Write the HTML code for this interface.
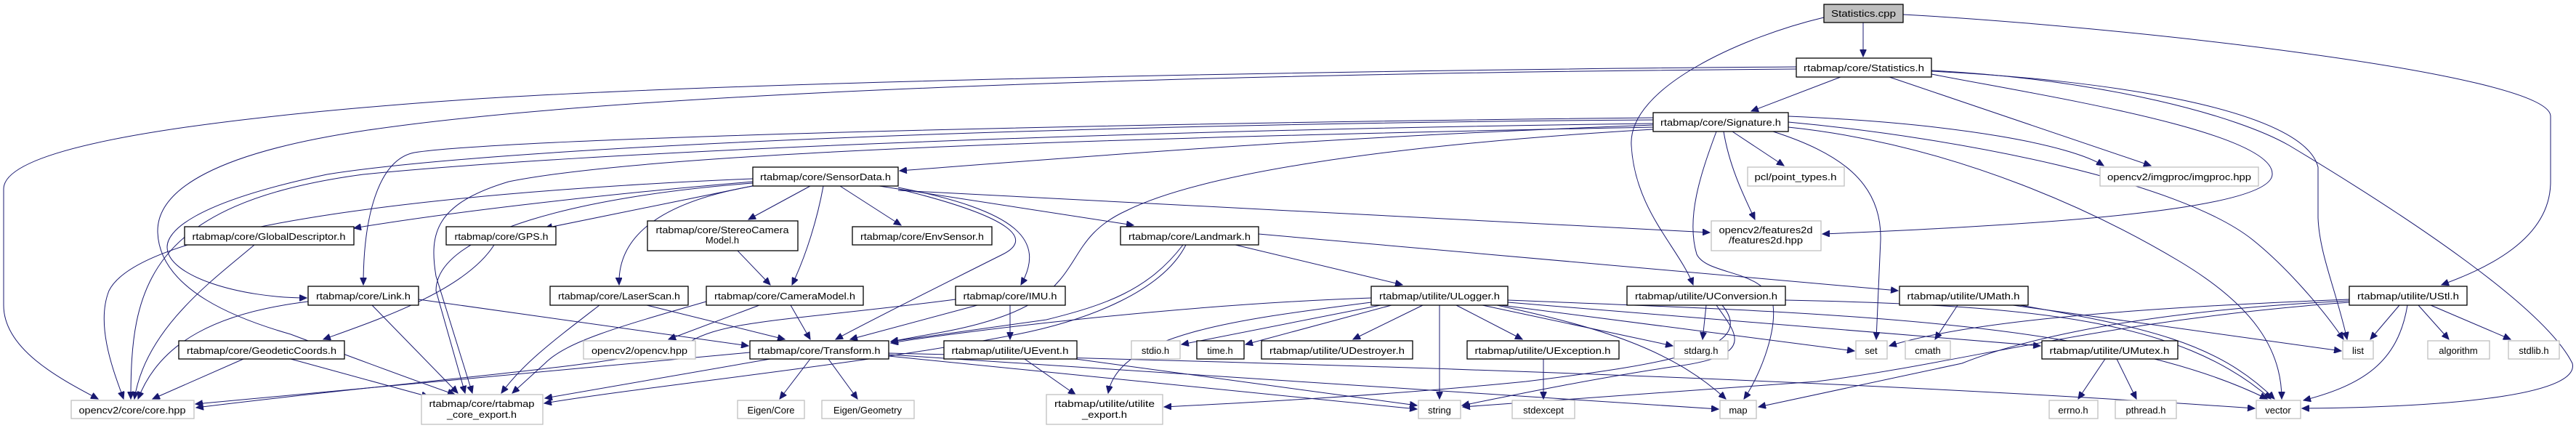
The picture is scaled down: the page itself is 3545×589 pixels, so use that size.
<!DOCTYPE html>
<html><head><meta charset="utf-8"><style>
html,body{margin:0;padding:0;background:#fff;}
svg{display:block;}
text{font-family:"Liberation Sans",sans-serif;font-size:13px;fill:#000;}
.b{fill:#fff;stroke:#000;stroke-width:1.3;}
.g{fill:#fff;stroke:#bfbfbf;stroke-width:1.3;}
.e{fill:none;stroke:#191970;stroke-width:1;marker-end:url(#a);}
</style></head><body>
<svg width="3545" height="589" viewBox="0 0 3545 589" xmlns="http://www.w3.org/2000/svg">
<defs><marker id="a" markerUnits="userSpaceOnUse" markerWidth="11" markerHeight="9" refX="10" refY="4.5" orient="auto"><path d="M0,0 L10,4.5 L0,9 z" fill="#191970" stroke="#191970"/></marker></defs>
<g>
<path class="e" d="M2564,31 L2564,78"/>
<path class="e" d="M2510,24 C2400,50 2240,120 2245,200 C2250,290 2310,340 2330,392"/>
<path class="e" d="M2619,20 C2900,35 3510,100 3510,160 L3510,250 C3510,330 3420,370 3360,392"/>
<path class="e" d="M2533,106 L2410,153"/>
<path class="e" d="M2472,92 C2000,95 1000,110 600,140 C200,170 5,210 5,260 L5,420 C5,480 80,520 135,549"/>
<path class="e" d="M2472,95 C1800,100 900,120 500,180 C300,210 215,260 217,320 C220,400 330,440 400,460 C480,490 560,520 626,543"/>
<path class="e" d="M2275,165 C1500,170 700,200 450,240 C260,280 230,320 230,340 C230,380 330,410 422,410"/>
<path class="e" d="M2658,98 C2900,110 3170,150 3190,230 L3190,300 C3192,350 3215,400 3230,467"/>
<path class="e" d="M2658,97 C2900,110 3080,160 3150,200 C3300,290 3500,420 3540,500 C3550,540 3400,560 3168,562"/>
<path class="e" d="M2600,106 L2960,228"/>
<path class="e" d="M2658,102 C2800,130 3130,180 3127,240 C3125,290 2800,310 2508,322"/>
<path class="e" d="M2275,172 C1800,190 1500,215 1238,235"/>
<path class="e" d="M2384,181 L2455,228"/>
<path class="e" d="M2372,181 C2380,230 2400,270 2415,302"/>
<path class="e" d="M2440,181 C2530,210 2590,250 2588,330 L2582,467"/>
<path class="e" d="M2362,181 C2340,240 2320,300 2335,350 C2350,380 2430,370 2440,420 C2445,460 2420,520 2400,549"/>
<path class="e" d="M2461,168 C2700,190 3000,250 3100,330 C3150,370 3200,430 3225,467"/>
<path class="e" d="M2461,175 C2700,200 2900,300 3000,360 C3100,420 3140,480 3140,549"/>
<path class="e" d="M2461,160 C2700,170 2850,200 2895,228"/>
<path class="e" d="M2275,178 C1900,200 1650,240 1550,290 C1440,340 1520,420 1280,460 L1226,470"/>
<path class="e" d="M2275,162 C1500,170 700,190 570,210 C520,220 500,300 500,392"/>
<path class="e" d="M2275,175 C1500,190 900,210 700,250 C600,280 590,320 600,380 L650,541"/>
<path class="e" d="M2275,170 C1500,180 800,210 500,240 C200,280 180,400 180,549"/>
<path class="e" d="M1036,250 C800,270 600,295 487,314"/>
<path class="e" d="M1040,255 L750,314"/>
<path class="e" d="M1115,256 L1030,302"/>
<path class="e" d="M1156,256 L1240,310"/>
<path class="e" d="M1210,256 L1560,310"/>
<path class="e" d="M1133,256 C1125,300 1110,350 1090,392"/>
<path class="e" d="M1036,256 C900,280 850,330 852,392"/>
<path class="e" d="M1236,258 C1400,290 1440,330 1405,392"/>
<path class="e" d="M1236,260 C1400,300 1420,330 1380,350 C1300,390 1200,440 1150,467"/>
<path class="e" d="M1236,262 L2353,320"/>
<path class="e" d="M1036,246 C700,260 200,300 150,400 C130,450 160,520 170,549"/>
<path class="e" d="M1036,252 C800,270 600,320 600,400 L640,541"/>
<path class="e" d="M350,337 C300,380 200,450 185,549"/>
<path class="e" d="M680,337 C640,400 520,440 445,467"/>
<path class="e" d="M335,494 L210,549"/>
<path class="e" d="M400,494 L590,546"/>
<path class="e" d="M424,415 C300,430 220,470 190,549"/>
<path class="e" d="M512,420 L630,541"/>
<path class="e" d="M576,412 L1030,476"/>
<path class="e" d="M825,420 C760,470 720,500 690,541"/>
<path class="e" d="M890,420 L1080,467"/>
<path class="e" d="M1015,345 L1060,392"/>
<path class="e" d="M1045,420 L920,467"/>
<path class="e" d="M1088,420 L1115,467"/>
<path class="e" d="M972,415 C850,450 780,470 750,500 L705,541"/>
<path class="e" d="M1345,420 L1170,467"/>
<path class="e" d="M1390,420 L1390,467"/>
<path class="e" d="M1315,412 C1100,440 1000,440 950,470 C900,500 600,520 270,561"/>
<path class="e" d="M1628,337 C1580,400 1520,420 1440,440 L1226,470"/>
<path class="e" d="M1632,337 C1600,400 1500,440 1400,460 C1200,500 900,530 749,555"/>
<path class="e" d="M1700,337 L1930,392"/>
<path class="e" d="M1732,322 L2612,400"/>
<path class="e" d="M1032,485 L269,556"/>
<path class="e" d="M1060,494 L750,548"/>
<path class="e" d="M1115,494 L1073,549"/>
<path class="e" d="M1140,494 L1180,549"/>
<path class="e" d="M1223,490 L1950,563"/>
<path class="e" d="M1223,488 L2365,563"/>
<path class="e" d="M1223,486 C1800,500 2500,520 3103,562"/>
<path class="e" d="M1410,494 L1480,543"/>
<path class="e" d="M1480,494 L1950,558"/>
<path class="e" d="M1887,410 C1600,420 1300,460 1226,472"/>
<path class="e" d="M1900,420 L1626,474"/>
<path class="e" d="M1915,420 L1714,474"/>
<path class="e" d="M1958,420 L1862,467"/>
<path class="e" d="M2004,420 L2095,467"/>
<path class="e" d="M2040,420 L2302,476"/>
<path class="e" d="M2050,418 L2552,483"/>
<path class="e" d="M1981,420 L1981,549"/>
<path class="e" d="M2060,420 C2200,450 2300,480 2375,549"/>
<path class="e" d="M2075,413 C2500,430 2900,440 3120,549"/>
<path class="e" d="M2075,416 L2808,476"/>
<path class="e" d="M1887,416 C1700,440 1540,460 1525,541"/>
<path class="e" d="M2124,494 L2124,549"/>
<path class="e" d="M2348,420 L2343,467"/>
<path class="e" d="M2362,420 C2390,460 2420,490 2300,505 C2200,520 2100,540 2012,558"/>
<path class="e" d="M2370,420 C2420,480 2300,500 2100,525 C1900,545 1700,555 1602,560"/>
<path class="e" d="M2457,413 C2800,420 3000,440 3125,549"/>
<path class="e" d="M2694,420 L2663,467"/>
<path class="e" d="M2770,420 L3222,483"/>
<path class="e" d="M2780,420 C2950,450 3050,470 3130,549"/>
<path class="e" d="M3302,420 L3262,467"/>
<path class="e" d="M3328,420 L3370,467"/>
<path class="e" d="M3345,420 L3455,467"/>
<path class="e" d="M3313,420 C3300,500 3250,530 3170,551"/>
<path class="e" d="M3233,412 C2900,425 2700,445 2600,476"/>
<path class="e" d="M3233,414 C2900,430 2750,480 2700,500 L2420,560"/>
<path class="e" d="M3233,416 C2900,440 2700,500 2500,525 L2013,560"/>
<path class="e" d="M2897,494 L2860,549"/>
<path class="e" d="M2913,494 L2940,549"/>
</g>
<g>
<rect x="2510" y="6" width="109" height="25" fill="#bfbfbf" stroke="#000" stroke-width="1.3"/><text x="2564.5" y="23" text-anchor="middle" textLength="89" lengthAdjust="spacingAndGlyphs">Statistics.cpp</text>
<rect class="b" x="2472" y="80" width="186" height="26"/><text x="2565" y="98" text-anchor="middle" textLength="166" lengthAdjust="spacingAndGlyphs">rtabmap/core/Statistics.h</text>
<rect class="b" x="2275" y="155" width="186" height="26"/><text x="2368" y="173" text-anchor="middle" textLength="166" lengthAdjust="spacingAndGlyphs">rtabmap/core/Signature.h</text>
<rect class="b" x="1036" y="230" width="200" height="26"/><text x="1136" y="248" text-anchor="middle" textLength="180" lengthAdjust="spacingAndGlyphs">rtabmap/core/SensorData.h</text>
<rect class="g" x="2405" y="230" width="133" height="26"/><text x="2471" y="248" text-anchor="middle" textLength="113" lengthAdjust="spacingAndGlyphs">pcl/point_types.h</text>
<rect class="g" x="2890" y="230" width="218" height="26"/><text x="2999" y="248" text-anchor="middle" textLength="198" lengthAdjust="spacingAndGlyphs">opencv2/imgproc/imgproc.hpp</text>
<rect class="b" x="254" y="312" width="233" height="25"/><text x="370" y="330" text-anchor="middle" textLength="211" lengthAdjust="spacingAndGlyphs">rtabmap/core/GlobalDescriptor.h</text>
<rect class="b" x="614" y="312" width="151" height="25"/><text x="690" y="330" text-anchor="middle" textLength="129" lengthAdjust="spacingAndGlyphs">rtabmap/core/GPS.h</text>
<rect class="b" x="891" y="304" width="207" height="41"/><text x="994" y="321" text-anchor="middle" textLength="183" lengthAdjust="spacingAndGlyphs">rtabmap/core/StereoCamera</text><text x="994" y="335" text-anchor="middle">Model.h</text>
<rect class="b" x="1173" y="312" width="192" height="25"/><text x="1269" y="330" text-anchor="middle" textLength="170" lengthAdjust="spacingAndGlyphs">rtabmap/core/EnvSensor.h</text>
<rect class="b" x="1542" y="312" width="190" height="25"/><text x="1637" y="330" text-anchor="middle" textLength="168" lengthAdjust="spacingAndGlyphs">rtabmap/core/Landmark.h</text>
<rect class="g" x="2355" y="304" width="151" height="41"/><text x="2430" y="321" text-anchor="middle" textLength="129" lengthAdjust="spacingAndGlyphs">opencv2/features2d</text><text x="2430" y="335" text-anchor="middle" textLength="102" lengthAdjust="spacingAndGlyphs">/features2d.hpp</text>
<rect class="b" x="424" y="394" width="152" height="26"/><text x="500" y="412" text-anchor="middle" textLength="130" lengthAdjust="spacingAndGlyphs">rtabmap/core/Link.h</text>
<rect class="b" x="757" y="394" width="190" height="26"/><text x="852" y="412" text-anchor="middle" textLength="168" lengthAdjust="spacingAndGlyphs">rtabmap/core/LaserScan.h</text>
<rect class="b" x="972" y="394" width="216" height="26"/><text x="1080" y="412" text-anchor="middle" textLength="194" lengthAdjust="spacingAndGlyphs">rtabmap/core/CameraModel.h</text>
<rect class="b" x="1315" y="394" width="151" height="26"/><text x="1390" y="412" text-anchor="middle" textLength="129" lengthAdjust="spacingAndGlyphs">rtabmap/core/IMU.h</text>
<rect class="b" x="1887" y="394" width="188" height="26"/><text x="1981" y="412" text-anchor="middle" textLength="166" lengthAdjust="spacingAndGlyphs">rtabmap/utilite/ULogger.h</text>
<rect class="b" x="2239" y="394" width="218" height="26"/><text x="2348" y="412" text-anchor="middle" textLength="196" lengthAdjust="spacingAndGlyphs">rtabmap/utilite/UConversion.h</text>
<rect class="b" x="2614" y="394" width="177" height="26"/><text x="2702" y="412" text-anchor="middle" textLength="155" lengthAdjust="spacingAndGlyphs">rtabmap/utilite/UMath.h</text>
<rect class="b" x="3233" y="394" width="162" height="26"/><text x="3314" y="412" text-anchor="middle" textLength="140" lengthAdjust="spacingAndGlyphs">rtabmap/utilite/UStl.h</text>
<rect class="b" x="246" y="469" width="228" height="25"/><text x="360" y="487" text-anchor="middle" textLength="206" lengthAdjust="spacingAndGlyphs">rtabmap/core/GeodeticCoords.h</text>
<rect class="g" x="803" y="469" width="154" height="25"/><text x="880" y="487" text-anchor="middle" textLength="132" lengthAdjust="spacingAndGlyphs">opencv2/opencv.hpp</text>
<rect class="b" x="1032" y="469" width="191" height="25"/><text x="1127" y="487" text-anchor="middle" textLength="169" lengthAdjust="spacingAndGlyphs">rtabmap/core/Transform.h</text>
<rect class="b" x="1299" y="469" width="183" height="25"/><text x="1390" y="487" text-anchor="middle" textLength="161" lengthAdjust="spacingAndGlyphs">rtabmap/utilite/UEvent.h</text>
<rect class="g" x="1557" y="469" width="67" height="25"/><text x="1590" y="487" text-anchor="middle">stdio.h</text>
<rect class="b" x="1647" y="469" width="65" height="25"/><text x="1679" y="487" text-anchor="middle">time.h</text>
<rect class="b" x="1736" y="469" width="208" height="25"/><text x="1840" y="487" text-anchor="middle" textLength="186" lengthAdjust="spacingAndGlyphs">rtabmap/utilite/UDestroyer.h</text>
<rect class="b" x="2019" y="469" width="209" height="25"/><text x="2123" y="487" text-anchor="middle" textLength="187" lengthAdjust="spacingAndGlyphs">rtabmap/utilite/UException.h</text>
<rect class="g" x="2304" y="469" width="74" height="25"/><text x="2341" y="487" text-anchor="middle">stdarg.h</text>
<rect class="g" x="2554" y="469" width="43" height="25"/><text x="2575" y="487" text-anchor="middle">set</text>
<rect class="g" x="2622" y="469" width="62" height="25"/><text x="2653" y="487" text-anchor="middle">cmath</text>
<rect class="b" x="2810" y="469" width="187" height="25"/><text x="2903" y="487" text-anchor="middle" textLength="165" lengthAdjust="spacingAndGlyphs">rtabmap/utilite/UMutex.h</text>
<rect class="g" x="3224" y="469" width="42" height="25"/><text x="3245" y="487" text-anchor="middle">list</text>
<rect class="g" x="3341" y="469" width="85" height="25"/><text x="3383" y="487" text-anchor="middle">algorithm</text>
<rect class="g" x="3452" y="469" width="70" height="25"/><text x="3487" y="487" text-anchor="middle">stdlib.h</text>
<rect class="g" x="98" y="551" width="169" height="25"/><text x="182" y="569" text-anchor="middle" textLength="147" lengthAdjust="spacingAndGlyphs">opencv2/core/core.hpp</text>
<rect class="g" x="580" y="543" width="167" height="41"/><text x="663" y="560" text-anchor="middle" textLength="145" lengthAdjust="spacingAndGlyphs">rtabmap/core/rtabmap</text><text x="663" y="575" text-anchor="middle" textLength="96" lengthAdjust="spacingAndGlyphs">_core_export.h</text>
<rect class="g" x="1015" y="551" width="92" height="25"/><text x="1061" y="569" text-anchor="middle">Eigen/Core</text>
<rect class="g" x="1131" y="551" width="127" height="25"/><text x="1194" y="569" text-anchor="middle">Eigen/Geometry</text>
<rect class="g" x="1440" y="543" width="160" height="41"/><text x="1520" y="560" text-anchor="middle" textLength="138" lengthAdjust="spacingAndGlyphs">rtabmap/utilite/utilite</text><text x="1520" y="575" text-anchor="middle" textLength="62" lengthAdjust="spacingAndGlyphs">_export.h</text>
<rect class="g" x="1952" y="551" width="58" height="25"/><text x="1981" y="569" text-anchor="middle">string</text>
<rect class="g" x="2081" y="551" width="86" height="25"/><text x="2124" y="569" text-anchor="middle">stdexcept</text>
<rect class="g" x="2367" y="551" width="50" height="25"/><text x="2392" y="569" text-anchor="middle">map</text>
<rect class="g" x="2820" y="551" width="67" height="25"/><text x="2853" y="569" text-anchor="middle">errno.h</text>
<rect class="g" x="2911" y="551" width="84" height="25"/><text x="2953" y="569" text-anchor="middle">pthread.h</text>
<rect class="g" x="3105" y="551" width="61" height="25"/><text x="3135" y="569" text-anchor="middle">vector</text>
</g>
</svg>
</body></html>
